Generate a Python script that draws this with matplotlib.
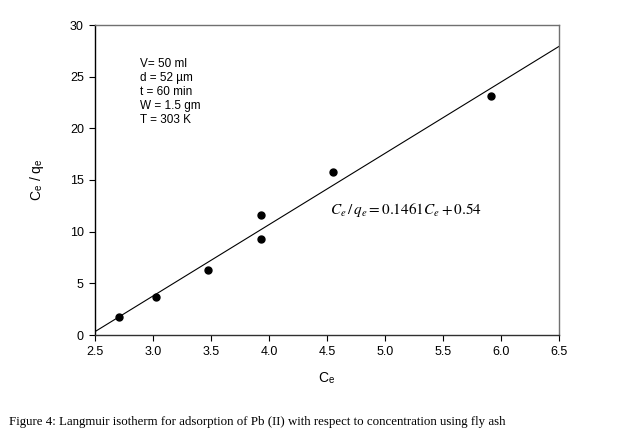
import numpy as np
import matplotlib
matplotlib.use("Agg")
import matplotlib.pyplot as plt

plt.rcParams['font.family'] = ['Liberation Sans', 'DejaVu Sans']
plt.rcParams['mathtext.fontset'] = 'stix'

ce = [2.71, 3.03, 3.47, 3.93, 3.93, 4.55, 5.91]
ce_qe = [1.7, 3.7, 6.3, 11.6, 9.3, 15.8, 23.1]
x_ticks = [2.5, 3.0, 3.5, 4.0, 4.5, 5.0, 5.5, 6.0, 6.5]
y_ticks = [0, 5, 10, 15, 20, 25, 30]
conditions = ["V= 50 ml", "d = 52 \u00b5m", "t = 60 min", "W = 1.5 gm", "T = 303 K"]
equation = r'$C_e\,/\,q_e = 0.1461C_e + 0.54$'
caption = "Figure 4: Langmuir isotherm for adsorption of Pb (II) with respect to concentration using fly ash"

fig = plt.figure(figsize=(6.24, 4.40), dpi=100)
ax = fig.add_axes([95/624, 1-335/440, (559-95)/624, (335-25)/440])

slope, intercept = np.polyfit(ce, ce_qe, 1)
xl = np.array([2.5, 6.5])
ax.plot(xl, slope*xl + intercept, color='black', lw=0.8)
ax.plot(ce, ce_qe, 'o', color='black', ms=5, zorder=3)

ax.set_xlim(2.5, 6.5)
ax.set_ylim(0, 30)
ax.set_xticks(x_ticks)
ax.set_xticklabels([f"{v:.1f}" for v in x_ticks])
ax.set_yticks(y_ticks)
ax.tick_params(direction='out', length=4, width=0.8, labelsize=9, pad=4,
               top=False, right=False)
for s in ['top', 'right']:
    ax.spines[s].set_color('#707070')
    ax.spines[s].set_linewidth(1.0)
ax.spines['left'].set_color('black')
ax.spines['bottom'].set_color('#303030')
ax.spines['left'].set_linewidth(1.0)
ax.spines['bottom'].set_linewidth(1.0)

ax.set_xlabel(r'C$_\mathregular{e}$', fontsize=10, labelpad=9)
ax.set_ylabel(r'C$_\mathregular{e}$ / q$_\mathregular{e}$', fontsize=10, labelpad=17)

fig.text(140/624, 1-58/440, "\n".join(conditions), fontsize=8.5, va='top', ha='left',
         linespacing=1.22)
fig.text(330/624, 1-214/440, equation, fontsize=11, va='baseline', ha='left')
fig.text(9/624, 1-422/440, caption, fontsize=9.3, va='center', ha='left',
         family=['Liberation Serif', 'DejaVu Serif'])

fig.savefig("out.png", dpi=100)
